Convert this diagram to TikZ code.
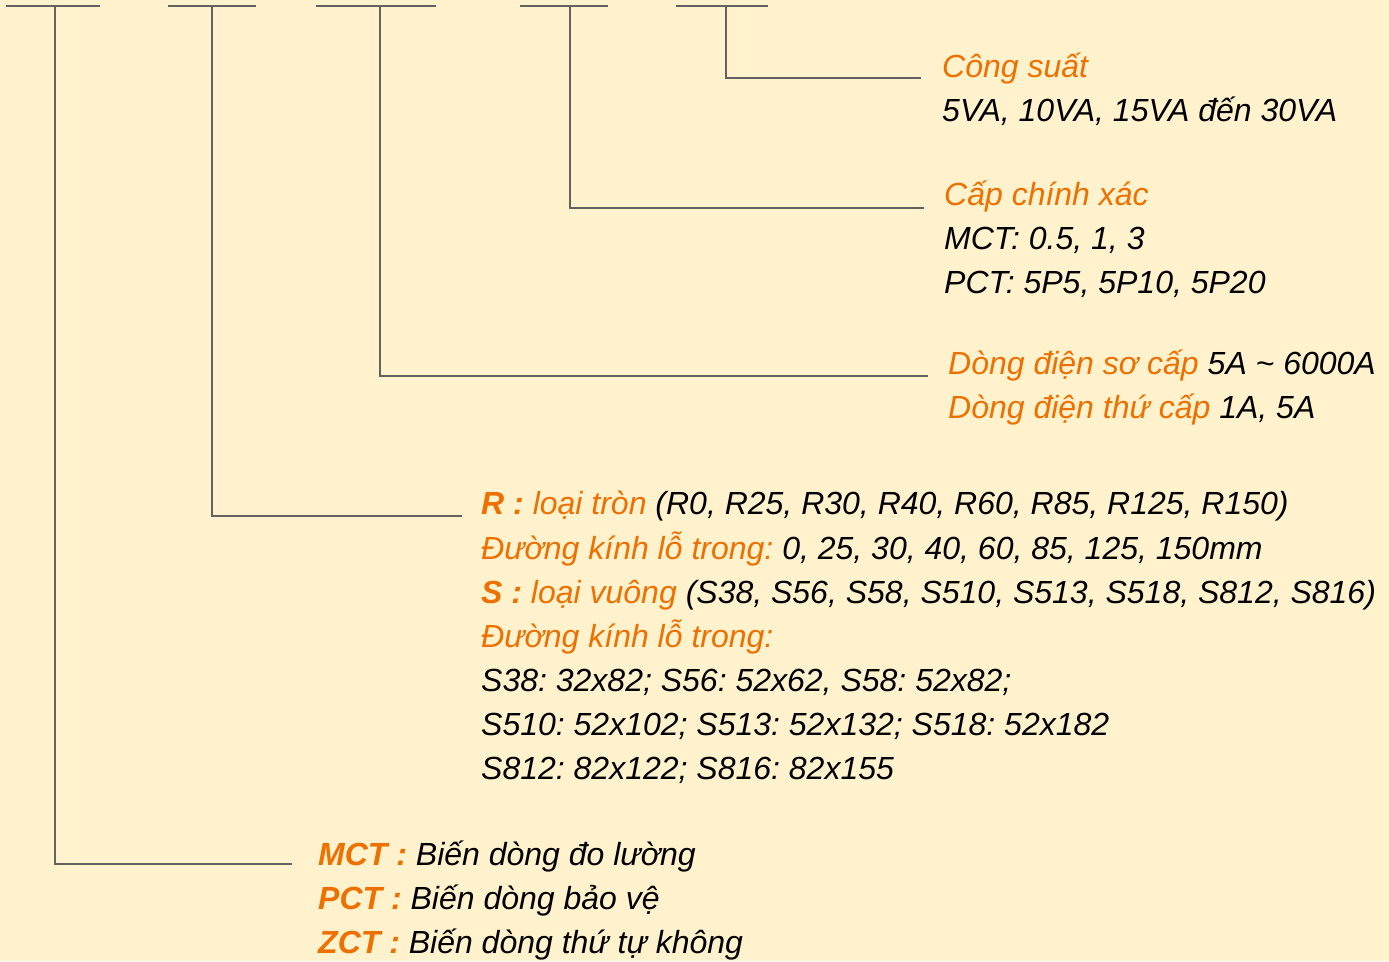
\documentclass[tikz,border=0pt]{standalone}
\usepackage{fontspec}
\setmainfont{Liberation Sans}
\frenchspacing
\definecolor{bg}{HTML}{FFF2CC}
\definecolor{org}{HTML}{EE7000}
\definecolor{ln}{HTML}{626262}
\begin{document}
\begin{tikzpicture}[x=1pt,y=-1pt,
  txt/.style={anchor=base west,inner sep=0pt,font=\fontsize{32}{40}\selectfont\itshape\frenchspacing},
  conn/.style={draw=ln,line width=2pt}]
\fill[bg] (0,0) rectangle (1389,961);
\useasboundingbox (0,0) rectangle (1389,961);
% top bars
\coordinate (b1l) at (6,6);   \coordinate (b1r) at (100,6);  \coordinate (t1) at (55,6);
\coordinate (b2l) at (168,6); \coordinate (b2r) at (256,6);  \coordinate (t2) at (212,6);
\coordinate (b3l) at (316,6); \coordinate (b3r) at (436,6);  \coordinate (t3) at (380,6);
\coordinate (b4l) at (520,6); \coordinate (b4r) at (608,6);  \coordinate (t4) at (570,6);
\coordinate (b5l) at (676,6); \coordinate (b5r) at (768,6);  \coordinate (t5) at (726,6);
\foreach \i in {1,...,5} \draw[conn] (b\i l) -- (b\i r);
% branch ends
\coordinate (e5) at (921,78);
\coordinate (e4) at (924,208);
\coordinate (e3) at (928,376);
\coordinate (e2) at (462,516);
\coordinate (e1) at (292,864);
\draw[conn] (t5) |- (e5);
\draw[conn] (t4) |- (e4);
\draw[conn] (t3) |- (e3);
\draw[conn] (t2) |- (e2);
\draw[conn] (t1) |- (e1);
% texts
\node[txt] (n5a) at (942,77) {\textcolor{org}{Công suất}};
\node[txt] (n5b) at (942,121) {5VA, 10VA, 15VA đến 30VA};
\node[txt] (n4a) at (944,205) {\textcolor{org}{Cấp chính xác}};
\node[txt] (n4b) at (944,249) {MCT: 0.5, 1, 3};
\node[txt] (n4c) at (944,293) {PCT: 5P5, 5P10, 5P20};
\node[txt] (n3a) at (948,374) {\textcolor{org}{Dòng điện sơ cấp} 5A \textasciitilde{} 6000A};
\node[txt] (n3b) at (948,418) {\textcolor{org}{Dòng điện thứ cấp} 1A, 5A};
\node[txt] (n2a) at (481,514) {\textcolor{org}{\bfseries R :} \textcolor{org}{loại tròn} (R0, R25, R30, R40, R60, R85, R125, R150)};
\node[txt] (n2b) at (481,559) {\textcolor{org}{Đường kính lỗ trong:} 0, 25, 30, 40, 60, 85, 125, 150mm};
\node[txt] (n2c) at (481,603) {\textcolor{org}{\bfseries S :} \textcolor{org}{loại vuông} (S38, S56, S58, S510, S513, S518, S812, S816)};
\node[txt] (n2d) at (481,647) {\textcolor{org}{Đường kính lỗ trong:}};
\node[txt] (n2e) at (481,691) {S38: 32x82; S56: 52x62, S58: 52x82;};
\node[txt] (n2f) at (481,735) {S510: 52x102; S513: 52x132; S518: 52x182};
\node[txt] (n2g) at (481,779) {S812: 82x122; S816: 82x155};
\node[txt] (n1a) at (318,865) {\textcolor{org}{\bfseries MCT :} Biến dòng đo lường};
\node[txt] (n1b) at (318,909) {\textcolor{org}{\bfseries PCT :} Biến dòng bảo vệ};
\node[txt] (n1c) at (318,953) {\textcolor{org}{\bfseries ZCT :} Biến dòng thứ tự không};
\end{tikzpicture}
\end{document}
